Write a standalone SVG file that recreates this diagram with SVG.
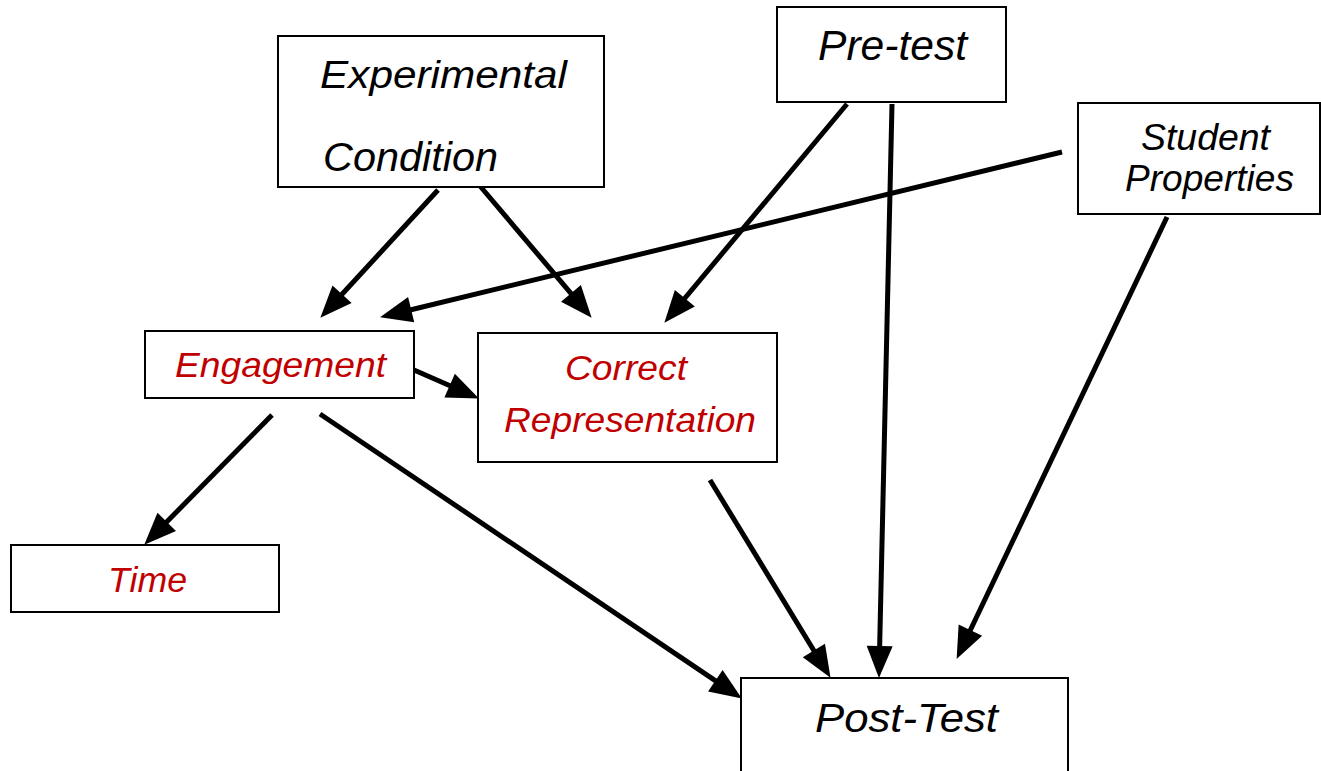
<svg xmlns="http://www.w3.org/2000/svg" width="1321" height="771" viewBox="0 0 1321 771">
  <style>
    .box { fill: #ffffff; stroke: #000000; stroke-width: 2; }
    .lbl { font-family: "Liberation Sans", Arial, sans-serif; font-style: italic; fill: #000000; }
    .red { fill: #c00000; }
    .edge { stroke: #000000; stroke-width: 5; fill: none; marker-end: url(#head); }
  </style>
  <defs>
    <marker id="head" markerUnits="userSpaceOnUse" markerWidth="32" markerHeight="26" refX="16" refY="13" orient="auto" overflow="visible">
      <path d="M0,0 L32,13 L0,26 z" fill="#000000"/>
    </marker>
  </defs>
  <rect width="1321" height="771" fill="#ffffff"/>

  <g id="connectors">
    <line class="edge" x1="438" y1="190" x2="331.2" y2="306"/>
    <line class="edge" x1="480" y1="186" x2="581.3" y2="305.6"/>
    <line class="edge" x1="847" y1="104" x2="674.6" y2="310.5"/>
    <line class="edge" x1="892" y1="104" x2="879.3" y2="662"/>
    <line class="edge" x1="1062" y1="152" x2="395.6" y2="313.5"/>
    <line class="edge" x1="1167" y1="217" x2="963.5" y2="644.5"/>
    <line class="edge" x1="414" y1="370" x2="464.3" y2="392"/>
    <line class="edge" x1="272" y1="415" x2="155.5" y2="533.3"/>
    <line class="edge" x1="320" y1="414" x2="728.6" y2="689.6"/>
    <line class="edge" x1="710" y1="480" x2="822.2" y2="664.2"/>
  </g>

  <g id="experimental-condition">
    <rect class="box" x="278" y="36" width="326" height="151"/>
    <text class="lbl" x="320" y="88" font-size="39" textLength="247" lengthAdjust="spacingAndGlyphs">Experimental</text>
    <text class="lbl" x="323" y="171" font-size="40" textLength="175" lengthAdjust="spacingAndGlyphs">Condition</text>
  </g>

  <g id="pre-test">
    <rect class="box" x="777" y="7" width="229" height="95"/>
    <text class="lbl" x="818" y="60" font-size="42" textLength="149" lengthAdjust="spacingAndGlyphs">Pre-test</text>
  </g>

  <g id="student-properties">
    <rect class="box" x="1078" y="103" width="242" height="111"/>
    <text class="lbl" x="1141" y="150" font-size="37" textLength="129" lengthAdjust="spacingAndGlyphs">Student</text>
    <text class="lbl" x="1125" y="191" font-size="37" textLength="169" lengthAdjust="spacingAndGlyphs">Properties</text>
  </g>

  <g id="engagement">
    <rect class="box" x="145" y="331" width="269" height="67"/>
    <text class="lbl red" x="175" y="377" font-size="35" textLength="211" lengthAdjust="spacingAndGlyphs">Engagement</text>
  </g>

  <g id="correct-representation">
    <rect class="box" x="478" y="333" width="299" height="129"/>
    <text class="lbl red" x="565" y="380" font-size="35" textLength="122" lengthAdjust="spacingAndGlyphs">Correct</text>
    <text class="lbl red" x="504" y="432" font-size="35" textLength="252" lengthAdjust="spacingAndGlyphs">Representation</text>
  </g>

  <g id="time">
    <rect class="box" x="11" y="545" width="268" height="67"/>
    <text class="lbl red" x="108" y="592" font-size="35" textLength="79" lengthAdjust="spacingAndGlyphs">Time</text>
  </g>

  <g id="post-test">
    <rect class="box" x="741" y="678" width="327" height="112"/>
    <text class="lbl" x="815" y="732" font-size="41" textLength="183" lengthAdjust="spacingAndGlyphs">Post-Test</text>
  </g>
</svg>
